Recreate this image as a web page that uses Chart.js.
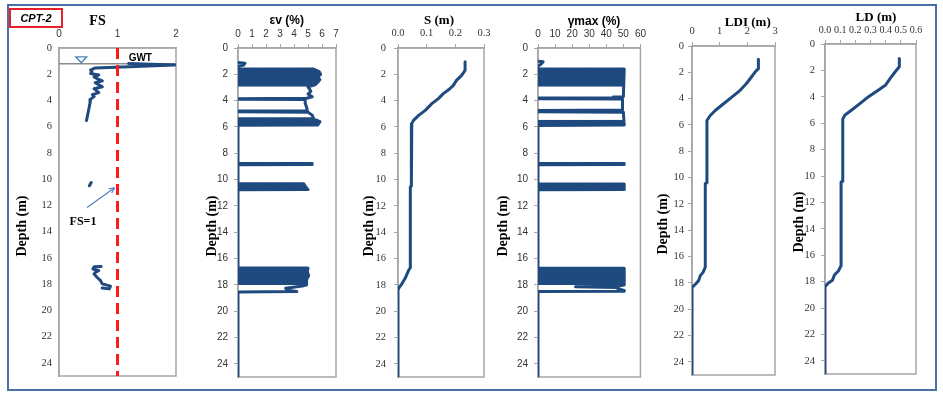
<!DOCTYPE html>
<html>
<head>
<meta charset="utf-8">
<title>CPT-2</title>
<script src="https://cdn.jsdelivr.net/npm/chart.js@4.4.1/dist/chart.umd.min.js"></script>
<style>
  body { margin: 0; background: #fff; }
  #fig { position: relative; width: 943px; height: 396px; overflow: hidden; background: #fff; }
  #frame { position: absolute; left: 7px; top: 4px; width: 926px; height: 383px; border: 2px solid #4a6fa5; }
  #tag { position: absolute; left: 9px; top: 8px; width: 50px; height: 16px; border: 2px solid #e8202a;
         font: italic bold 11px "Liberation Sans", sans-serif; line-height: 16px; text-align: center; }
  canvas { position: absolute; top: 0; }
</style>
</head>
<body>
<div id="fig">
  <div id="frame"></div>
  <canvas id="fsChart"></canvas>
  <canvas id="epsChart"></canvas>
  <canvas id="sChart"></canvas>
  <canvas id="gamChart"></canvas>
  <canvas id="ldiChart"></canvas>
  <canvas id="ldChart"></canvas>
  <div id="tag">CPT-2</div>
</div>
<script>
// depth axis, shared by all panels (m)
const depthTicks = [0, 2, 4, 6, 8, 10, 12, 14, 16, 18, 20, 22, 24];

// factor of safety (null = gap between layers)
const fsDepth = [1.18, 1.30, 1.42, 1.52, 1.69, 1.80, 1.94, 2.05, 2.2, 2.35, 2.5, 2.65, 2.8, 2.95, 3.1, 3.25, 3.4, 3.55, 3.7, 3.9, 4.2, 4.65, 5.1, 5.53,
  null, 10.25, 10.5,
  null, 16.65, 16.68, 16.84, 16.97, 17.1, 17.22, 17.47, 17.73, 17.98, 18.15, 18.36, 18.3];
const fsValue = [1.19, 1.98, 1.2, 0.62, 0.54, 0.56, 0.54, 0.68, 0.6, 0.66, 0.74, 0.62, 0.68, 0.74, 0.6, 0.64, 0.68, 0.57, 0.6, 0.54, 0.53, 0.51, 0.49, 0.47,
  null, 0.55, 0.52,
  null, 0.72, 0.6, 0.58, 0.68, 0.62, 0.6, 0.65, 0.71, 0.74, 0.88, 0.86, 0.74];
const fsTicks = [0, 1, 2];
const fsLimit = 1;
const gwtDepth = 1.2;

// volumetric strain (%)
const epsDepth = [1.1, 1.15, 1.3, 1.38, 1.58, 1.6, 1.8, 2.0, 2.2, 2.4, 2.6, 2.8, 2.95, 3.1, 3.3, 3.5, 3.7, 3.82, 3.85, 3.9,
  3.92, 4.2, 4.5, 4.76, 4.78, 4.85, 4.88, 5.1, 5.36, 5.38, 5.45, 5.47, 5.6, 5.85, 5.87, 8.75, 8.77, 8.86, 8.88,
  10.3, 10.32, 10.5, 10.76, 10.78, 16.7, 16.72, 17.0, 17.3, 17.6, 18.0, 18.08, 18.25, 18.4, 18.5, 18.55, 25];
const epsValue = [0, 0.5, 0.4, 0, 0, 5.4, 5.8, 5.9, 5.7, 5.85, 5.7, 5.5, 5.0, 5.1, 5.2, 5.0, 5.3, 4.9, 0, 0,
  4.8, 4.8, 4.9, 4.95, 0, 0, 5.0, 5.3, 5.4, 0, 0, 5.6, 5.85, 5.7, 0, 0, 5.3, 5.3, 0,
  0, 4.7, 4.8, 5.0, 0, 0, 5.0, 4.95, 5.05, 4.9, 4.9, 4.6, 3.4, 3.5, 4.2, 0, 0];
// thin, closely spaced layers that print as solid blocks
const epsLayerDepth = [1.6, 1.8, 2.0, 2.2, 2.4, 2.6, 2.8, 2.95, null, 5.47, 5.6, 5.85, null, 10.32, 10.5, 10.76, null, 16.72, 17.0, 17.3, 17.6, 18.0];
const epsLayerValue = [5.4, 5.8, 5.9, 5.7, 5.85, 5.7, 5.5, 5.0, null, 5.6, 5.85, 5.7, null, 4.7, 4.8, 5.0, null, 5.0, 4.95, 5.05, 4.9, 4.9];
const epsTicks = [0, 1, 2, 3, 4, 5, 6, 7];

// settlement (m)
const sDepth = [1.05, 1.7, 2.08, 2.46, 2.84, 3.1, 3.47, 3.85, 4.23, 4.74, 5.12, 5.5, 5.75, 8.9, 8.95, 10.5, 10.55, 16.7, 16.9, 17.2, 17.5, 17.9, 18.2, 18.4, 25];
const sValue = [0.234, 0.234, 0.222, 0.204, 0.193, 0.181, 0.158, 0.141, 0.118, 0.095, 0.072, 0.054, 0.048, 0.048, 0.046, 0.046, 0.043, 0.043, 0.037, 0.031, 0.025, 0.014, 0.004, 0, 0];
const sTicks = [0, 0.1, 0.2, 0.3];

// maximum shear strain (%)
const gamDepth = [1.0, 1.05, 1.2, 1.3, 1.35, 1.58, 1.6, 3.7, 3.72, 3.78, 3.8, 3.85, 3.88, 4.72, 4.75, 4.85, 4.88, 5.85, 5.88, 8.75,
  8.77, 8.86, 8.88, 10.32, 10.34, 10.76, 10.78, 16.72, 16.74, 18.0, 18.1, 18.15, 18.2, 18.3, 18.42, 18.48, 18.5, 25];
const gamValue = [0, 3, 2, 1, 0, 0, 50.5, 50, 44, 44, 0, 0, 49.5, 49.5, 0, 0, 50, 50.5, 0, 0,
  50.5, 50.5, 0, 0, 50.5, 50.5, 0, 0, 50.5, 50.5, 47, 22, 46, 47, 50.5, 50.5, 0, 0];
const gamLayerDepth = [1.6, 2.95, null, 5.45, 5.85, null, 10.34, 10.76, null, 16.74, 18.0];
const gamLayerValue = [50.5, 50.5, null, 50.5, 50.5, null, 50.5, 50.5, null, 50.5, 50.5];
const gamTicks = [0, 10, 20, 30, 40, 50, 60];

// lateral displacement index (m)
const ldiDepth = [1.0, 1.72, 1.98, 2.49, 2.87, 3.37, 3.88, 4.39, 4.9, 5.28, 5.66, 10.4, 10.45, 16.8, 17.2, 17.45, 17.83, 18.1, 18.35, 25];
const ldiValue = [2.4, 2.4, 2.28, 2.1, 1.96, 1.74, 1.44, 1.14, 0.84, 0.66, 0.54, 0.54, 0.48, 0.48, 0.40, 0.30, 0.24, 0.12, 0, 0];
const ldiTicks = [0, 1, 2, 3];

// lateral displacement (m)
const ldDepth = [1.09, 1.72, 2.1, 2.6, 3.1, 3.48, 3.99, 4.5, 5.0, 5.38, 5.68, 10.4, 10.45, 16.8, 17.2, 17.5, 17.9, 18.1, 18.4, 25];
const ldValue = [0.49, 0.49, 0.463, 0.43, 0.40, 0.353, 0.287, 0.232, 0.176, 0.132, 0.117, 0.117, 0.106, 0.106, 0.088, 0.062, 0.049, 0.022, 0, 0];
const ldTicks = [0, 0.1, 0.2, 0.3, 0.4, 0.5, 0.6];

const PANEL_H = 396;
const blue = '#1f4a80';
const boxColor = '#a6a6a6';
const tickColor = '#333333';
const serif = '"Liberation Serif", "DejaVu Serif", serif';
const sans = '"Liberation Sans", "DejaVu Sans", sans-serif';
const depthFont = 'bold 14px ' + serif;

function pts(depths, values) {
  return depths.map((d, i) => (d === null ? { x: null, y: null } : { x: values[i], y: d }));
}

function profile(depths, values) {
  return { data: pts(depths, values), borderColor: blue, borderWidth: 3, fill: false, spanGaps: false, order: 0 };
}

function layers(depths, values) {
  return { data: pts(depths, values), borderWidth: 0, borderColor: blue, backgroundColor: blue, fill: 'origin', spanGaps: false, order: 1 };
}

// frame round the plot area, panel titles and notes
function decor(left, labels, extra) {
  return {
    id: 'decor',
    beforeDatasetsDraw(chart) {
      const { ctx, chartArea: a } = chart;
      ctx.save();
      ctx.strokeStyle = boxColor;
      ctx.lineWidth = 1.5;
      ctx.strokeRect(a.left, a.top, a.right - a.left, a.bottom - a.top);
      ctx.restore();
    },
    afterDraw(chart) {
      const ctx = chart.ctx;
      labels.forEach(t => {
        ctx.save();
        ctx.font = t.font;
        ctx.fillStyle = t.color || '#000';
        ctx.textAlign = 'center';
        ctx.textBaseline = 'middle';
        ctx.translate(t.x - left, t.y);
        if (t.rotate) ctx.rotate(-Math.PI / 2);
        ctx.fillText(t.text, 0, 0);
        ctx.restore();
      });
      if (extra) extra(chart);
    }
  };
}

function makePanel(p) {
  const canvas = document.getElementById(p.id);
  canvas.width = p.width;
  canvas.height = PANEL_H;
  canvas.style.left = p.left + 'px';
  const a = p.area;
  const grid = { display: true, drawOnChartArea: false, drawTicks: p.marks, tickLength: 4, color: boxColor, lineWidth: 1 };
  return new Chart(canvas, {
    type: 'line',
    data: { datasets: p.datasets },
    options: {
      indexAxis: 'y',
      responsive: false,
      animation: false,
      devicePixelRatio: 1,
      events: [],
      layout: { padding: { left: 0, top: 0, right: p.left + p.width - a.right, bottom: PANEL_H - a.bottom } },
      elements: { point: { radius: 0, hoverRadius: 0 }, line: { tension: 0, borderJoinStyle: 'round', borderCapStyle: 'round' } },
      plugins: { legend: { display: false }, tooltip: { enabled: false }, title: { display: false } },
      scales: {
        x: {
          type: 'linear', position: 'top', min: p.xTicks[0], max: p.xTicks[p.xTicks.length - 1],
          afterBuildTicks: s => { s.ticks = p.xTicks.map(v => ({ value: v })); },
          afterFit: s => { s.height = a.top; },
          ticks: { autoSkip: false, maxRotation: 0, padding: p.xPad, color: tickColor, font: p.xFont,
                   callback: v => v.toFixed(p.digits) },
          grid: grid,
          border: { color: boxColor, width: 1.5 }
        },
        y: {
          type: 'linear', reverse: true, min: 0, max: 25,
          afterBuildTicks: s => { s.ticks = depthTicks.map(v => ({ value: v })); },
          afterFit: s => { s.width = a.left - p.left; },
          ticks: { autoSkip: false, padding: p.yPad, color: tickColor, font: p.yFont, callback: v => String(v) },
          grid: grid,
          border: { color: boxColor, width: 1.5 }
        }
      }
    },
    plugins: [decor(p.left, p.labels, p.extra)]
  });
}

// GWT marker and the arrow pointing at FS = 1
function fsNotes(chart) {
  const { ctx, scales: { x, y } } = chart;
  ctx.save();
  const tx = x.getPixelForValue(0.38), ty = y.getPixelForValue(0.9);
  ctx.beginPath();
  ctx.moveTo(tx - 5.5, ty - 3);
  ctx.lineTo(tx + 5.5, ty - 3);
  ctx.lineTo(tx, ty + 3);
  ctx.closePath();
  ctx.fillStyle = '#fff';
  ctx.fill();
  ctx.strokeStyle = '#4f81bd';
  ctx.lineWidth = 1.3;
  ctx.stroke();

  const x0 = x.getPixelForValue(0.48), y0 = y.getPixelForValue(12.15);
  const x1 = x.getPixelForValue(0.95), y1 = y.getPixelForValue(10.65);
  const ang = Math.atan2(y1 - y0, x1 - x0);
  ctx.beginPath();
  ctx.moveTo(x0, y0);
  ctx.lineTo(x1, y1);
  ctx.lineWidth = 1.2;
  ctx.stroke();
  ctx.beginPath();
  ctx.moveTo(x1, y1);
  ctx.lineTo(x1 - 6 * Math.cos(ang - 0.45), y1 - 6 * Math.sin(ang - 0.45));
  ctx.moveTo(x1, y1);
  ctx.lineTo(x1 - 6 * Math.cos(ang + 0.45), y1 - 6 * Math.sin(ang + 0.45));
  ctx.stroke();
  ctx.restore();
}

makePanel({
  id: 'fsChart', left: 0, width: 195, area: { left: 59, right: 176, top: 48, bottom: 376 },
  xTicks: fsTicks, digits: 0, marks: false, xPad: 8, yPad: 7,
  xFont: { family: sans, size: 10 }, yFont: { family: serif, size: 10.5 },
  datasets: [
    profile(fsDepth, fsValue),
    { data: [{ x: fsLimit, y: 0 }, { x: fsLimit, y: 25 }], borderColor: '#ff1a1a', borderWidth: 3, borderDash: [11, 6],
      borderCapStyle: 'butt', fill: false, order: -1 },
    { data: [{ x: fsTicks[0], y: gwtDepth }, { x: fsTicks[2], y: gwtDepth }], borderColor: '#8c8c8c', borderWidth: 1.5, fill: false, order: 2 }
  ],
  labels: [
    { text: 'FS', x: 97.5, y: 21.5, font: 'bold 14px ' + serif },
    { text: 'Depth (m)', x: 22, y: 226, font: depthFont, rotate: true },
    { text: 'GWT', x: 140.3, y: 57.8, font: 'bold 10px ' + sans },
    { text: 'FS=1', x: 83, y: 221.5, font: 'bold 12px ' + serif }
  ],
  extra: fsNotes
});

makePanel({
  id: 'epsChart', left: 195, width: 160, area: { left: 238, right: 336, top: 48, bottom: 377 },
  xTicks: epsTicks, digits: 0, marks: true, xPad: 4, yPad: 6,
  xFont: { family: sans, size: 10 }, yFont: { family: sans, size: 10 },
  datasets: [profile(epsDepth, epsValue), layers(epsLayerDepth, epsLayerValue)],
  labels: [
    { text: '\u03b5v (%)', x: 286.7, y: 21, font: 'bold 12px ' + sans },
    { text: 'Depth (m)', x: 212, y: 226, font: depthFont, rotate: true }
  ]
});

makePanel({
  id: 'sChart', left: 355, width: 140, area: { left: 398, right: 484, top: 48, bottom: 377 },
  xTicks: sTicks, digits: 1, marks: true, xPad: 4, yPad: 8,
  xFont: { family: serif, size: 10.5 }, yFont: { family: serif, size: 10.5 },
  datasets: [profile(sDepth, sValue)],
  labels: [
    { text: 'S (m)', x: 439, y: 21, font: 'bold 13px ' + serif },
    { text: 'Depth (m)', x: 369, y: 226, font: depthFont, rotate: true }
  ]
});

makePanel({
  id: 'gamChart', left: 495, width: 155, area: { left: 538, right: 641, top: 48, bottom: 377 },
  xTicks: gamTicks, digits: 0, marks: true, xPad: 4, yPad: 6,
  xFont: { family: sans, size: 10 }, yFont: { family: sans, size: 10 },
  datasets: [profile(gamDepth, gamValue), layers(gamLayerDepth, gamLayerValue)],
  labels: [
    { text: '\u03b3max (%)', x: 594, y: 21.7, font: 'bold 12px ' + sans },
    { text: 'Depth (m)', x: 503, y: 226, font: depthFont, rotate: true }
  ]
});

makePanel({
  id: 'ldiChart', left: 650, width: 140, area: { left: 692, right: 775, top: 46, bottom: 375 },
  xTicks: ldiTicks, digits: 0, marks: true, xPad: 4, yPad: 4,
  xFont: { family: serif, size: 10.5 }, yFont: { family: serif, size: 10.5 },
  datasets: [profile(ldiDepth, ldiValue)],
  labels: [
    { text: 'LDI (m)', x: 747.8, y: 22.5, font: 'bold 13px ' + serif },
    { text: 'Depth (m)', x: 663, y: 224, font: depthFont, rotate: true }
  ]
});

makePanel({
  id: 'ldChart', left: 790, width: 153, area: { left: 825, right: 916, top: 44, bottom: 374 },
  xTicks: ldTicks, digits: 1, marks: true, xPad: 4, yPad: 6,
  xFont: { family: serif, size: 10 }, yFont: { family: serif, size: 10.5 },
  datasets: [profile(ldDepth, ldValue)],
  labels: [
    { text: 'LD (m)', x: 876, y: 17.5, font: 'bold 13px ' + serif },
    { text: 'Depth (m)', x: 799, y: 222, font: depthFont, rotate: true }
  ]
});
</script>
</body>
</html>
